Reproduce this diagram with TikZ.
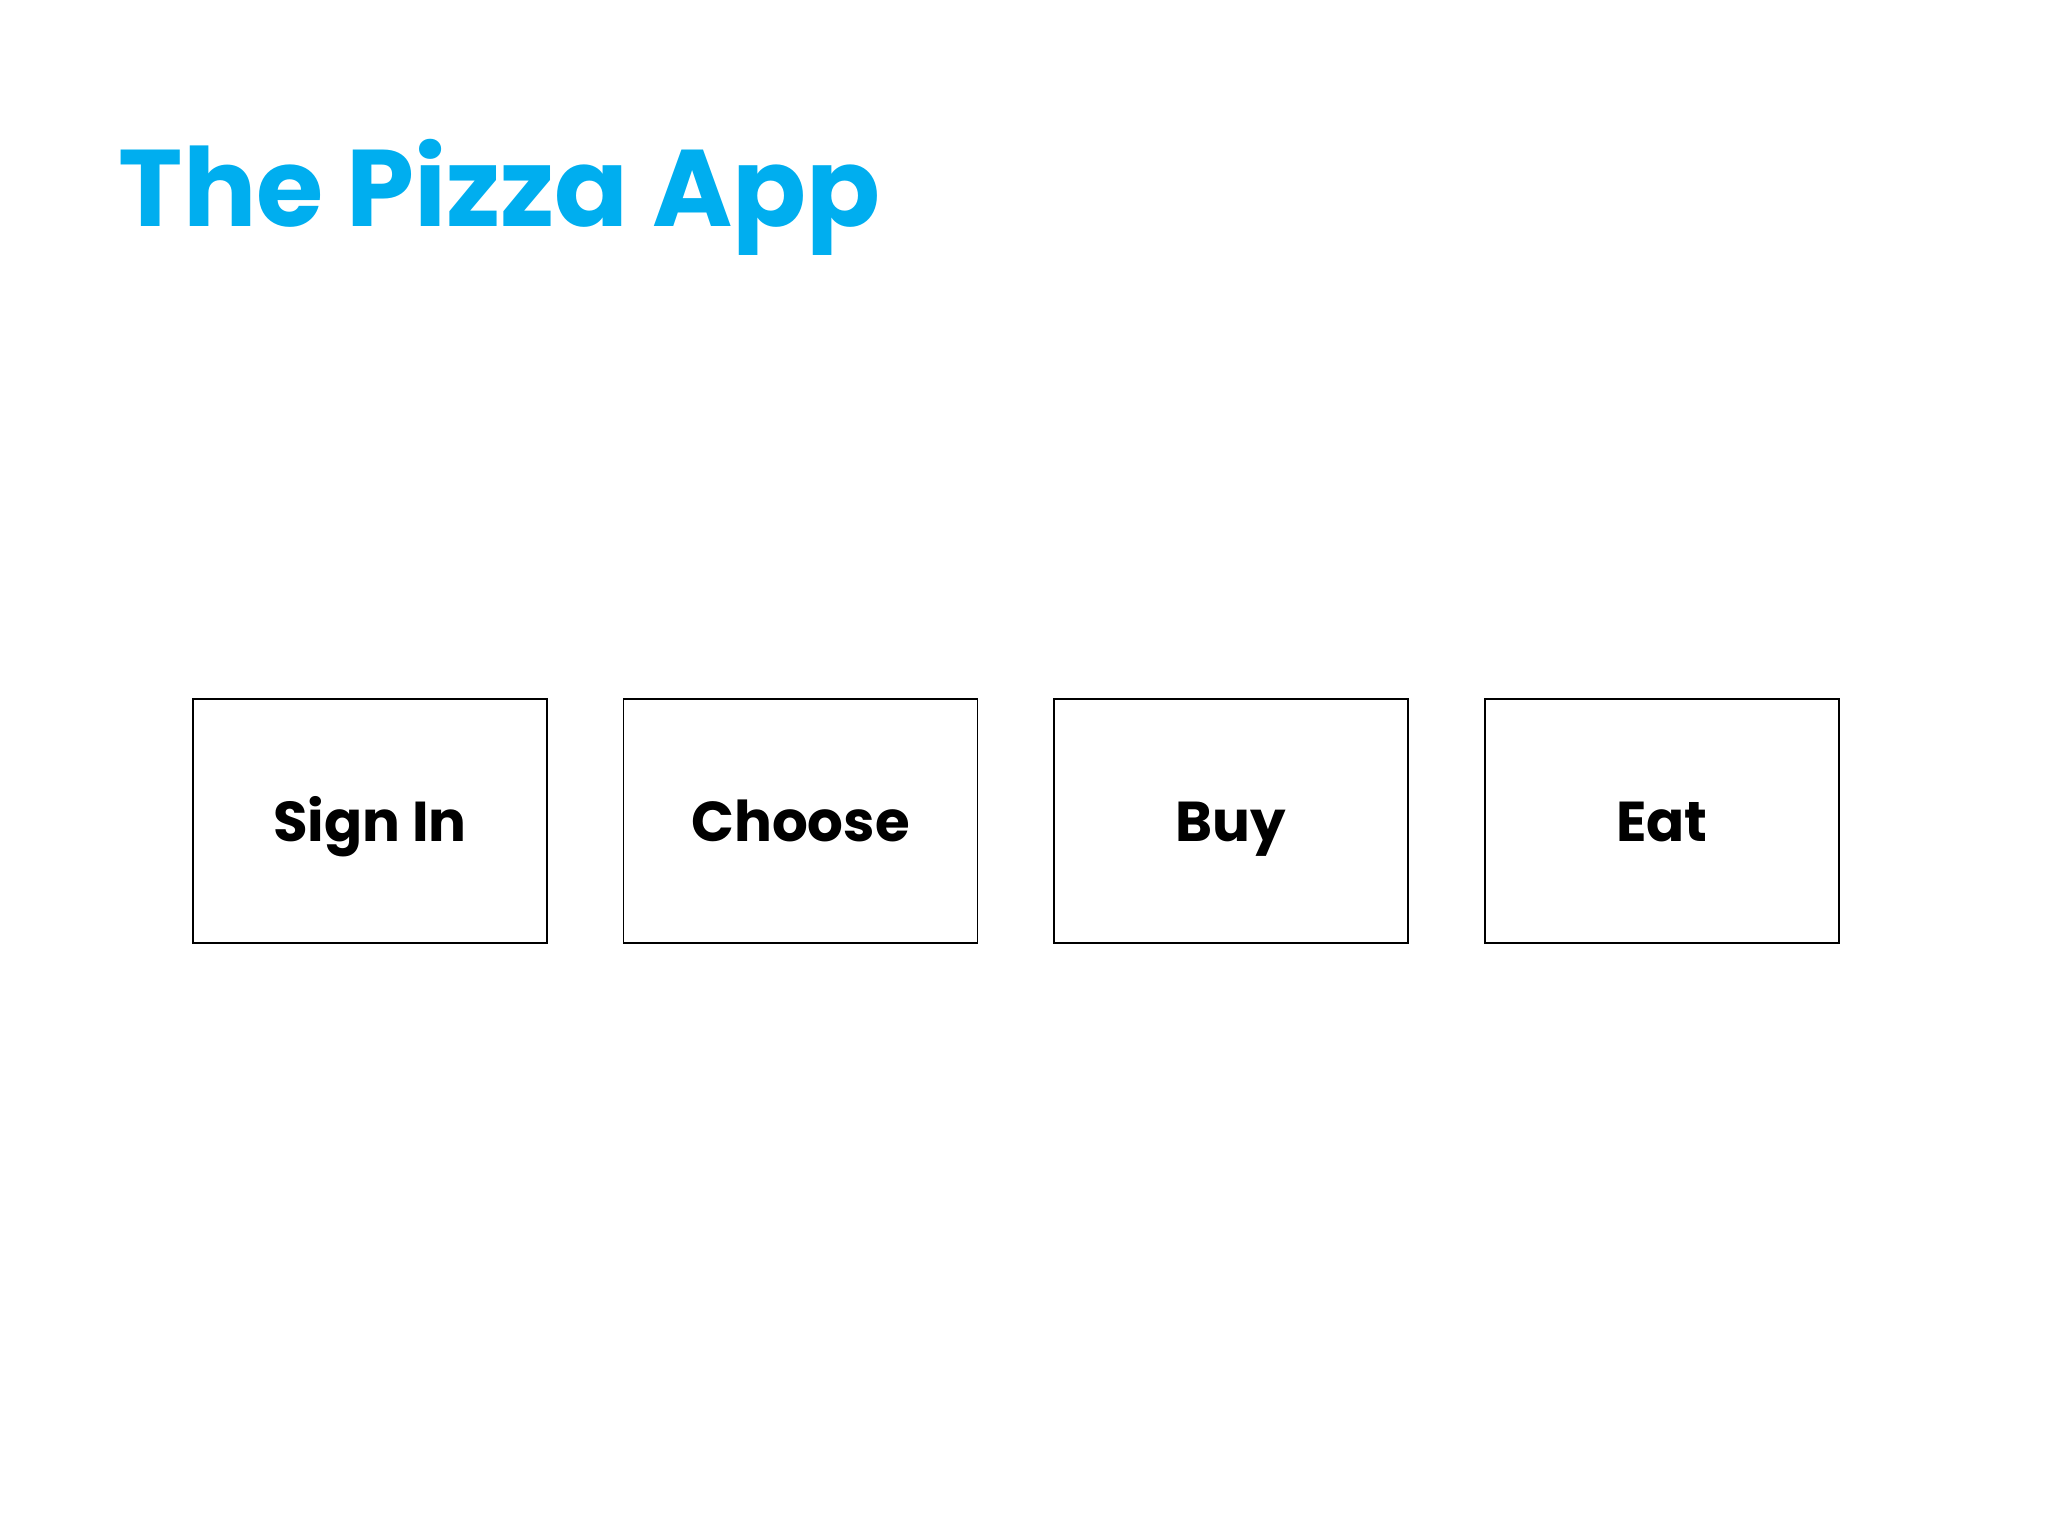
\documentclass[tikz,border=0pt]{standalone}
\usepackage{fontspec}
\setmainfont{Poppins}
\usepackage{tikz}
\usetikzlibrary{positioning}
\definecolor{pizzablue}{RGB}{0,174,239}

\begin{document}
\begin{tikzpicture}[
  paso/.style={draw, line width=0.45pt, minimum width=3.54cm, minimum height=2.44cm,
    inner sep=0pt, text height=0.42cm, text depth=0pt, font=\fontsize{16}{19}\selectfont\bfseries},
  titulo/.style={font=\fontsize{31}{36}\selectfont\bfseries, text=pizzablue, inner sep=0pt}
]
% Flujo de la app: Sign In, Choose, Buy, Eat
\useasboundingbox (0,0) rectangle (20.48,-15.36);
\node[titulo, anchor=base west] (title) at (1.18,-2.27) {The Pizza App};
\node[paso] (signin) at (3.70,-8.21) {Sign In};
\node[paso, right=0.75cm of signin] (choose) {Choose};
\node[paso, right=0.75cm of choose] (buy) {Buy};
\node[paso, right=0.75cm of buy] (eat) {Eat};
\end{tikzpicture}
\end{document}
